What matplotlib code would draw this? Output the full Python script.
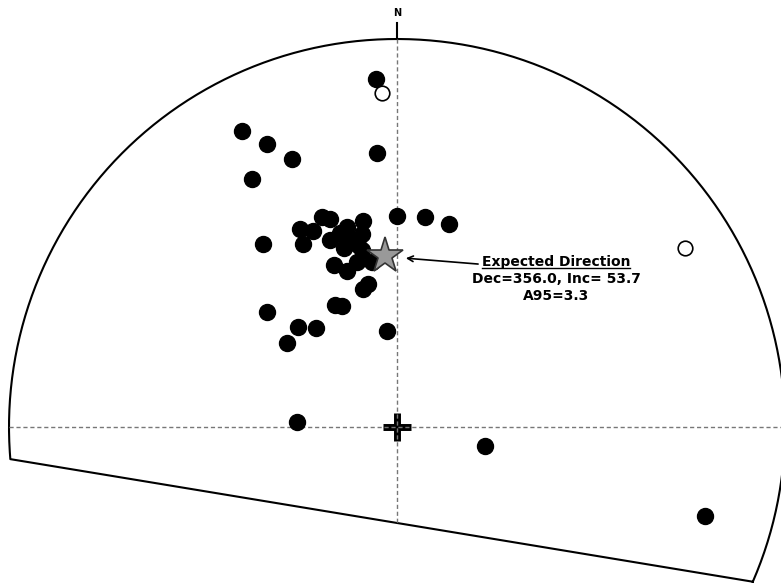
import numpy as np
import matplotlib
matplotlib.use("Agg")
import matplotlib.pyplot as plt

# site directions (declination, inclination in degrees)
dec_down = [356.5, 332.4, 335.3, 338.6, 329.7, 355.8, 0.0, 7.6, 14.4, 323.8,
            340.3, 342.1, 333.9, 336.8, 332.8, 346.0, 343.6, 350.6, 349.7, 340.3,
            346.5, 343.5, 347.9, 348.8, 338.8, 342.2, 346.4, 351.4, 346.2, 348.5,
            333.1, 335.6, 311.5, 315.3, 320.7, 307.4, 354.0, 272.9, 102.2, 106.1]
inc_down = [11.1, 15.0, 20.8, 26.7, 26.8, 29.9, 44.8, 44.6, 45.1, 41.2,
            42.0, 43.1, 42.6, 44.3, 46.0, 45.9, 46.8, 45.3, 48.1, 47.6,
            49.0, 50.2, 50.3, 51.6, 53.1, 55.3, 54.0, 54.6, 60.0, 59.2,
            61.1, 62.0, 53.1, 60.3, 63.0, 60.8, 69.7, 69.0, 71.1, 18.5]

# upper hemisphere directions
dec_up = [357.4, 58.1]
inc_up = [-14.9, -13.7]

exp_dec = 356.0
exp_inc = 53.7
exp_a95 = 3.3


def eqarea(dec, inc):
    dec = np.radians(np.asarray(dec, dtype=float))
    inc = np.asarray(inc, dtype=float)
    r = np.sqrt(2) * np.sin(np.radians(90 - np.abs(inc)) / 2)
    return r * np.sin(dec), r * np.cos(dec)


fig = plt.figure(figsize=(7.81, 5.84), dpi=100)
ax = fig.add_axes([0, 0, 1, 1])
ax.set_xlim(-1.0232, 0.9897)
ax.set_ylim(-0.4046, 1.1005)
ax.set_aspect("equal")
ax.axis("off")

# net outline: arc over the top, closed by a straight chord
a0, a1 = np.radians(-23.5), np.radians(184.75)
t = np.linspace(a0, a1, 400)
ox = np.append(np.cos(t), np.cos(a0))
oy = np.append(np.sin(t), np.sin(a0))
ax.plot(ox, oy, color="black", lw=1.5, zorder=2)

# north tick and label
ax.plot([0, 0], [1.0, 1.04], color="black", lw=1.5, zorder=2)
ax.text(0, 1.067, "N", ha="center", va="center", fontsize=7, fontweight="bold")

# centre cross
ax.plot(0, 0, marker="+", ms=20, mew=5, color="black", zorder=3)

# axes through centre
chord_y = np.sin(a0) + (0 - np.cos(a0)) * (np.sin(a1) - np.sin(a0)) / (np.cos(a1) - np.cos(a0))
ax.plot([0, 0], [1.0, chord_y], color="#777777", lw=1, ls=(0, (3, 2)), zorder=4)
ax.plot([-np.sqrt(1 - 0.0), 1.0], [0, 0], color="#777777", lw=1, ls=(0, (3, 2)), zorder=4)

x, y = eqarea(dec_down, inc_down)
ax.plot(x, y, "o", ms=11.5, color="black", mec="black", zorder=5)
x, y = eqarea(dec_up, inc_up)
ax.plot(x, y, "o", ms=10.5, mfc="white", mec="black", mew=1.2, zorder=5)

sx, sy = eqarea(exp_dec, exp_inc)
ax.plot(sx, sy, marker="*", ms=27, mfc="#999999", mec="#333333", mew=1.2, zorder=6)

ax.annotate("", xy=(sx, sy), xytext=(0.209, 0.420),
            arrowprops=dict(arrowstyle="->", color="black", lw=1.2,
                            shrinkA=0, shrinkB=15), zorder=6)

tx = 0.41
t1 = ax.text(tx, 0.425, "Expected Direction", ha="center", va="center",
             fontsize=10, fontweight="bold")
ax.text(tx, 0.381, f"Dec={exp_dec:.1f}, Inc= {exp_inc:.1f}", ha="center",
        va="center", fontsize=10, fontweight="bold")
ax.text(tx, 0.338, f"A95={exp_a95:.1f}", ha="center", va="center",
        fontsize=10, fontweight="bold")

# underline the heading
fig.canvas.draw()
bb = t1.get_window_extent().transformed(ax.transData.inverted())
ax.plot([bb.x0, bb.x1], [bb.y0 + 0.002, bb.y0 + 0.002], color="black", lw=1)

fig.savefig("out.png", dpi=100)
